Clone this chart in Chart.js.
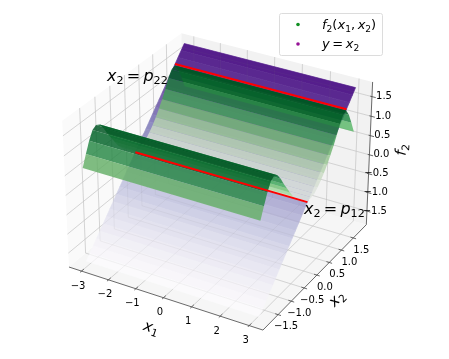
<!DOCTYPE html>
<html>
<head>
<meta charset="utf-8">
<style>
  html, body { margin: 0; padding: 0; background: #fff; }
  canvas { display: block; }
</style>
<script src="https://cdn.jsdelivr.net/npm/chart.js@4"></script>
</head>
<body>
<canvas id="chart" width="449" height="359"></canvas>
<script>
// values
const x1Ticks = [-3, -2, -1, 0, 1, 2, 3];
const x2Ticks = [-1.5, -1, -0.5, 0, 0.5, 1, 1.5];
const zTicks = [-1.5, -1, -0.5, 0, 0.5, 1, 1.5];
const x1Range = [-3.1, 3.1];
const x2Grid = [-1.8, -1.68, -1.56, -1.44, -1.32, -1.2, -1.08, -0.96, -0.84, -0.72, -0.6, -0.48, -0.36, -0.24, -0.12, 0,
  0.12, 0.24, 0.36, 0.48, 0.6, 0.72, 0.84, 0.96, 1.08, 1.2, 1.32, 1.44, 1.56, 1.68, 1.8];
const planeValues = [-1.8, -1.68, -1.56, -1.44, -1.32, -1.2, -1.08, -0.96, -0.84, -0.72, -0.6, -0.48, -0.36, -0.24, -0.12, 0,
  0.12, 0.24, 0.36, 0.48, 0.6, 0.72, 0.84, 0.96, 1.08, 1.2, 1.32, 1.44, 1.56, 1.68, 1.8];
const surfaceValues = [0.62, 0.9, 1.16, 1.36, 1.42, 1.36, 1.2, 1.0, 0.82, 0.64, 0.47, 0.35, 0.24, 0.14, 0.05, -0.02,
  0, 0.02, 0.1, 0.2, 0.32, 0.46, 0.62, 0.8, 1.0, 1.22, 1.38, 1.42, 1.25, 0.98, 0.68];
const p12 = -0.03;
const p22 = 1.45;

const xLim = 3.47, yLim = 2.06, zLim = 1.87;
const greens = ['#f7fcf5', '#e5f5e0', '#c7e9c0', '#a1d99b', '#74c476', '#41ab5d', '#238b45', '#006d2c', '#00441b'];
const purples = ['#fcfbfd', '#efedf5', '#dadaeb', '#bcbddc', '#9e9ac8', '#807dba', '#6a51a3', '#54278f', '#3f007d'];

// same camera as a default mplot3d view: elev 30, azim -60, dist 10
function project(x1, x2, z) {
  const px = x1 / xLim * 0.5714, py = x2 / yLim * 0.5714, pz = z / zLim * 0.4286;
  const a = 0.866 * px + 0.5 * py;
  const b = -0.25 * px + 0.433 * py + 0.866 * pz;
  const c = 0.433 * px - 0.75 * py + 0.5 * pz;
  return { x: a / (10 - c), y: b / (10 - c) };
}

function cmap(stops, t, shade, alpha, whiten) {
  t = Math.min(1, Math.max(0, t)) * (stops.length - 1);
  const i = Math.min(stops.length - 2, Math.floor(t));
  const hex = s => [1, 3, 5].map(k => parseInt(s.substr(k, 2), 16));
  const c0 = hex(stops[i]), c1 = hex(stops[i + 1]);
  const rgb = c0.map((v, k) => {
    const c = (v + (c1[k] - v) * (t - i)) * shade;
    return Math.round(c + (255 - c) * whiten);
  });
  return `rgba(${rgb[0]},${rgb[1]},${rgb[2]},${alpha})`;
}

const datasets = [];

function poly(points, color, edge) {
  datasets.push({
    data: points.concat([points[0]]), showLine: true, pointRadius: 0, borderWidth: edge || 0,
    borderColor: color, backgroundColor: color, fill: 'shape', tension: 0
  });
}
function seg(points, color, width) {
  datasets.push({
    data: points, showLine: true, pointRadius: 0, borderWidth: width,
    borderColor: color, fill: false, tension: 0
  });
}
function gridLines(color) {
  x1Ticks.forEach(t => seg([project(t, -yLim, -zLim), project(t, yLim, -zLim), project(t, yLim, zLim)], color, 0.8));
  x2Ticks.forEach(t => seg([project(xLim, t, -zLim), project(-xLim, t, -zLim), project(-xLim, t, zLim)], color, 0.8));
  zTicks.forEach(t => seg([project(-xLim, -yLim, t), project(-xLim, yLim, t), project(xLim, yLim, t)], color, 0.8));
}

// panes
poly([project(-xLim, -yLim, -zLim), project(xLim, -yLim, -zLim), project(xLim, yLim, -zLim), project(-xLim, yLim, -zLim)], '#f6f6f6');
poly([project(-xLim, -yLim, -zLim), project(-xLim, yLim, -zLim), project(-xLim, yLim, zLim), project(-xLim, -yLim, zLim)], '#fafafa');
poly([project(-xLim, yLim, -zLim), project(xLim, yLim, -zLim), project(xLim, yLim, zLim), project(-xLim, yLim, zLim)], '#f2f2f2');

gridLines('#d4d4d4');

// axis lines and ticks
const axisColor = '#444444';
seg([project(-xLim, -yLim, -zLim), project(xLim, -yLim, -zLim), project(xLim, yLim, -zLim), project(xLim, yLim, zLim)], axisColor, 0.8);
x1Ticks.forEach(t => seg([project(t, -yLim - 0.05, -zLim), project(t, -yLim + 0.08, -zLim)], axisColor, 0.8));
x2Ticks.forEach(t => seg([project(xLim + 0.1, t, -zLim), project(xLim - 0.1, t, -zLim)], axisColor, 0.8));
zTicks.forEach(t => seg([project(xLim + 0.13, yLim, t), project(xLim - 0.06, yLim, t)], axisColor, 0.8));

// y = x2 plane: opaque strips so the edges close up, grid comes back faintly on top
for (let i = planeValues.length - 2; i >= 0; i--) {
  const mid = (planeValues[i] + planeValues[i + 1]) / 2;
  poly([
    project(x1Range[0], x2Grid[i], planeValues[i]), project(x1Range[1], x2Grid[i], planeValues[i]),
    project(x1Range[1], x2Grid[i + 1], planeValues[i + 1]), project(x1Range[0], x2Grid[i + 1], planeValues[i + 1])
  ], cmap(purples, (mid + 1.8) / 3.6, 1, 1, 0.1), 0.7);
}
gridLines('rgba(120,120,120,0.1)');

// f2 strips from the back to the front, top of the colour range held back a little
for (let i = surfaceValues.length - 2; i >= 0; i--) {
  const mid = (surfaceValues[i] + surfaceValues[i + 1]) / 2;
  const shade = surfaceValues[i + 1] > surfaceValues[i] ? 0.9 : 1;
  const t = Math.min(0.92, (mid - 0.05) / 1.4);
  poly([
    project(x1Range[0], x2Grid[i], surfaceValues[i]), project(x1Range[1], x2Grid[i], surfaceValues[i]),
    project(x1Range[1], x2Grid[i + 1], surfaceValues[i + 1]), project(x1Range[0], x2Grid[i + 1], surfaceValues[i + 1])
  ], cmap(greens, t, shade, 0.84, 0));
}

// red lines on the plane
seg([project(x1Range[0], p22, p22), project(x1Range[1], p22, p22)], '#ff0000', 2);
seg([project(x1Range[0], p12, p12), project(x1Range[1], p12, p12)], '#ff0000', 2);

// chart.js draws the first dataset on top
datasets.reverse();

const MATH_FONT = '"DejaVu Sans"';
const SUB = 0.7;
function setFont(ctx, style, size) {
  ctx.font = (style === 'i' ? 'italic ' : '') + (style === 's' ? size * SUB : size) + 'px ' + MATH_FONT;
}
function mathWidth(ctx, parts, size) {
  let w = 0;
  parts.forEach(([t, style]) => {
    setFont(ctx, style, size);
    w += ctx.measureText(t).width;
  });
  return w;
}
function mathText(ctx, x, y, parts, size, angle) {
  ctx.save();
  ctx.translate(x, y);
  ctx.rotate(angle || 0);
  ctx.textAlign = 'left';
  ctx.textBaseline = 'alphabetic';
  ctx.fillStyle = '#000';
  let cur = 0;
  parts.forEach(([t, style]) => {
    setFont(ctx, style, size);
    ctx.fillText(t, cur, style === 's' ? size * 0.2 : 0);
    cur += ctx.measureText(t).width;
  });
  ctx.restore();
}
function centredMath(ctx, x, y, parts, size, angle) {
  const w = mathWidth(ctx, parts, size);
  mathText(ctx, x - Math.cos(angle) * w / 2, y - Math.sin(angle) * w / 2, parts, size, angle);
}

const tickText = (v, digits) => (v < 0 ? '\u2212' : '') + Math.abs(v).toFixed(digits);
const EQ = '\u2009=\u2009';

const textPlugin = {
  id: 'textPlugin',
  afterDraw(chart) {
    const ctx = chart.ctx, sx = chart.scales.x, sy = chart.scales.y;
    const px = p => ({ x: sx.getPixelForValue(p.x), y: sy.getPixelForValue(p.y) });

    ctx.save();
    ctx.font = '10px ' + MATH_FONT;
    ctx.fillStyle = '#000';
    ctx.textBaseline = 'middle';
    ctx.textAlign = 'center';
    x1Ticks.forEach(t => {
      const p = px(project(t, -yLim, -zLim));
      ctx.fillText(tickText(t, 0), p.x - 3.5, p.y + 15);
    });
    x2Ticks.forEach(t => {
      const p = px(project(xLim, t, -zLim));
      ctx.fillText(tickText(t, 1), p.x + 8, p.y + 12);
    });
    ctx.textAlign = 'right';
    zTicks.forEach(t => {
      const p = px(project(xLim, yLim, t));
      ctx.fillText(tickText(t, 1), p.x + 20, p.y);
    });
    ctx.restore();

    // axis titles
    centredMath(ctx, 150, 332, [['x', 'i'], ['1', 's']], 15, 0.32);
    centredMath(ctx, 340, 302, [['x', 'i'], ['2', 's']], 15, -0.8);
    centredMath(ctx, 406, 150, [['f', 'i'], ['2', 's']], 15, -1.5);

    // line labels
    mathText(ctx, 107, 81, [['x', 'i'], ['2', 's'], [EQ, 'r'], ['p', 'i'], ['22', 's']], 16, 0);
    mathText(ctx, 304, 214, [['x', 'i'], ['2', 's'], [EQ, 'r'], ['p', 'i'], ['12', 's']], 16, 0);

    // legend box
    ctx.save();
    ctx.fillStyle = 'rgba(255,255,255,0.8)';
    ctx.strokeStyle = '#dcdcdc';
    ctx.lineWidth = 1;
    ctx.beginPath();
    ctx.roundRect(279.5, 13.5, 103, 42, 2);
    ctx.fill();
    ctx.stroke();
    ctx.fillStyle = '#119022';
    ctx.beginPath(); ctx.arc(298, 24.5, 1.8, 0, Math.PI * 2); ctx.fill();
    ctx.fillStyle = '#961296';
    ctx.beginPath(); ctx.arc(298, 44, 1.8, 0, Math.PI * 2); ctx.fill();
    ctx.restore();
    mathText(ctx, 322, 29, [['f', 'i'], ['2', 's'], ['(', 'r'], ['x', 'i'], ['1', 's'], [',\u2009', 'r'], ['x', 'i'], ['2', 's'], [')', 'r']], 13);
    mathText(ctx, 322, 48, [['y', 'i'], [EQ, 'r'], ['x', 'i'], ['2', 's']], 13);
  }
};

new Chart(document.getElementById('chart'), {
  type: 'scatter',
  data: { datasets },
  plugins: [textPlugin],
  options: {
    responsive: false,
    animation: false,
    layout: { padding: 0 },
    plugins: { legend: { display: false }, tooltip: { enabled: false } },
    scales: {
      x: { display: false, min: -220.3 / 1945, max: (449 - 220.3) / 1945 },
      y: { display: false, min: (174.8 - 359) / 1945, max: 174.8 / 1945 }
    }
  }
});
</script>
</body>
</html>
